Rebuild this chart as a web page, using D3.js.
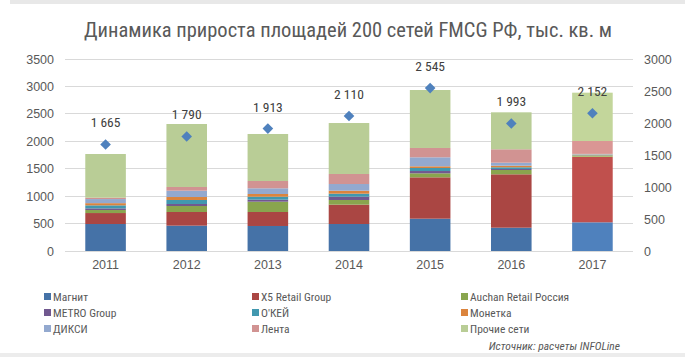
<!DOCTYPE html>
<html><head><meta charset="utf-8">
<script src="https://cdn.jsdelivr.net/npm/d3@7"></script>
<style>
body{margin:0;background:#fff;}
svg{display:block;font-family:"Liberation Sans Narrow","Roboto Condensed","Arial Narrow",sans-serif;}
</style></head><body>
<svg id="c" width="685" height="357"></svg>
<script>
const years = ["2011","2012","2013","2014","2015","2016","2017"];
const seriesNames = ["Магнит","X5 Retail Group","Auchan Retail Россия","METRO Group","О'КЕЙ","Монетка","ДИКСИ","Лента","Прочие сети"];
const magnit  = [492, 462, 456, 492, 589, 425, 523];
const x5      = [200, 249, 255, 353, 754, 973, 1196];
const auchan  = [55, 109, 188, 85, 73, 79, 25];
const metro   = [30, 37, 37, 60, 42, 18, 6];
const okey    = [55, 73, 54, 55, 55, 31, 6];
const monetka = [40, 54, 49, 54, 31, 29, 6];
const dixy    = [75, 115, 104, 122, 164, 55, 8];
const lenta   = [25, 68, 133, 183, 170, 244, 235];
const others  = [796, 1148, 857, 929, 1057, 674, 881];
const totalLabels = [1665, 1790, 1913, 2110, 2545, 1993, 2152];
const leftTicks = [0,500,1000,1500,2000,2500,3000,3500];
const rightTicks = [0,500,1000,1500,2000,2500,3000];

const colors = ["#4572A7","#AA4643","#89A54E","#71588F","#4198AF","#DB843D","#93A9CF","#D19392","#B9CD96"];
const colors2017 = ["#4F81BD","#C0504D","#9BBB59","#8064A2","#4BACC6","#F79646","#95B3D7","#DA9694","#C3D69B"];

const seriesVals = [magnit,x5,auchan,metro,okey,monetka,dixy,lenta,others];
const rows = years.map((y,i)=>{const r={year:y}; seriesNames.forEach((n,k)=>r[n]=seriesVals[k][i]); return r;});

const svg = d3.select("#c");
const m = {l:65, r:633, t:59, b:251};

// frame lines
svg.append("rect").attr("x",10).attr("y",0).attr("width",675).attr("height",4).attr("fill","#e8e8e8");
svg.append("rect").attr("x",0).attr("y",353).attr("width",685).attr("height",4).attr("fill","#ececec");

const x = d3.scaleBand().domain(years).range([m.l,m.r]).paddingInner(0.5).paddingOuter(0.25);
const yL = d3.scaleLinear().domain([0,3500]).range([m.b,m.t]);
const yR = d3.scaleLinear().domain([0,3000]).range([m.b,m.t]);

// gridlines
svg.append("g").selectAll("line").data(leftTicks).join("line")
  .attr("x1",m.l).attr("x2",m.r).attr("y1",d=>yL(d)).attr("y2",d=>yL(d))
  .attr("stroke","#d9d9d9").attr("stroke-width",1).attr("shape-rendering","crispEdges");

// axes
const axL = svg.append("g").attr("transform",`translate(${m.l-4},0)`)
  .call(d3.axisLeft(yL).tickValues(leftTicks).tickSize(0).tickPadding(7).tickFormat(d3.format("d")));
const axR = svg.append("g").attr("transform",`translate(${m.r+4},0)`)
  .call(d3.axisRight(yR).tickValues(rightTicks).tickSize(0).tickPadding(7).tickFormat(d3.format("d")));
const axB = svg.append("g").attr("transform",`translate(0,${m.b})`)
  .call(d3.axisBottom(x).tickSize(0).tickPadding(9));
[axL,axR,axB].forEach(a=>{a.select(".domain").remove();a.selectAll("text").attr("fill","#595959").style("font-size","12.5px").style("font-family","inherit");});

// stacked bars
const stack = d3.stack().keys(seriesNames)(rows);
svg.append("g").selectAll("g").data(stack).join("g")
  .selectAll("rect").data((d,k)=>d.map(p=>({p,k}))).join("rect")
  .attr("x",d=>x(d.p.data.year)).attr("width",x.bandwidth())
  .attr("y",d=>yL(d.p[1])).attr("height",d=>yL(d.p[0])-yL(d.p[1]))
  .attr("fill",d=>d.p.data.year==="2017"?colors2017[d.k]:colors[d.k]);

// diamonds (right axis)
const sym = d3.symbol().type(d3.symbolDiamond2).size(72);
svg.append("g").selectAll("path").data(totalLabels).join("path")
  .attr("d",sym)
  .attr("transform",(d,i)=>`translate(${x(years[i])+x.bandwidth()/2},${yR(d)})`)
  .attr("fill","#4F81BD");
const fmt = v=>d3.format(",")(v).replace(/,/g," ");
svg.append("g").selectAll("text").data(totalLabels).join("text")
  .attr("x",(d,i)=>x(years[i])+x.bandwidth()/2).attr("y",d=>yR(d)-17)
  .attr("text-anchor","middle").attr("fill","#404040").style("font-size","13.5px")
  .text(fmt);

// title
svg.append("text").attr("x",348).attr("y",37).attr("text-anchor","middle")
  .attr("fill","#595959").style("font-size","20.5px")
  .text("Динамика прироста площадей  200 сетей FMCG РФ, тыс. кв. м");

// legend
const colX = [44,252,461];
const rowY = [297,313,329];
const lg = svg.append("g").selectAll("g").data(seriesNames).join("g")
  .attr("transform",(d,i)=>`translate(${colX[i%3]},${rowY[Math.floor(i/3)]})`);
lg.append("rect").attr("x",0).attr("y",-4).attr("width",7).attr("height",7).attr("fill",(d,i)=>colors[i]);
lg.append("text").attr("x",9).attr("y",0).attr("dy","0.35em").attr("fill","#595959").style("font-size","11.5px").text(d=>d);

svg.append("text").attr("x",620).attr("y",346).attr("dy","0.35em").attr("text-anchor","end")
  .attr("fill","#595959").style("font-size","11.5px").style("font-style","italic")
  .text("Источник: расчеты INFOLine");
</script>
</body></html>
